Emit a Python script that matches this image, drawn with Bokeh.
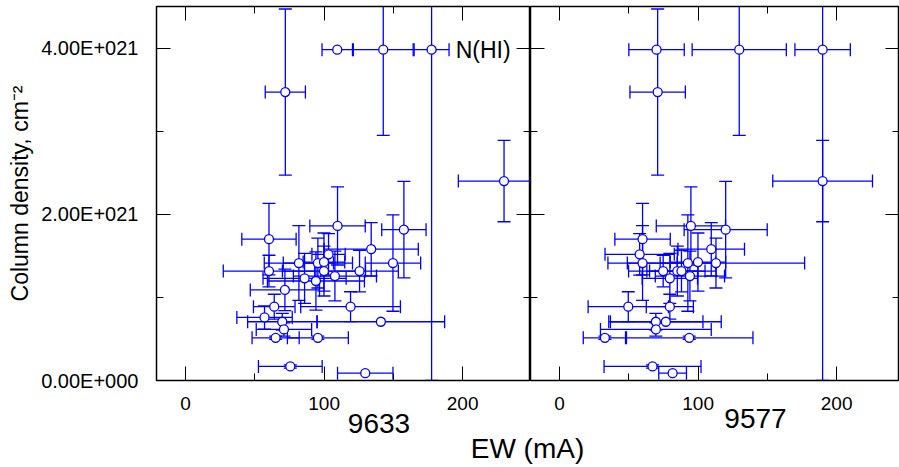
import numpy as np
from bokeh.plotting import figure
from bokeh.layouts import row, column
from bokeh.models import (ColumnDataSource, FixedTicker, CustomJSTickFormatter,
                          LinearAxis, Label, Range1d)
from bokeh.embed import file_html
from bokeh.resources import INLINE

# ---------------- data (column density in units of 1e21 cm^-2, EW in mA) ----------------
panel_names = ["9633", "9577"]
x_title = "EW (mA)"
y_title = "Column density, cm\u207b\u00b2"
series_label = "N(HI)"

ew_9633 = [109.5, 142.7, 177.6, 72.0, 229.9, 109.7, 157.6, 60.2, 134.0, 103.2, 149.7,
           81.8, 95.5, 99.9, 60.2, 99.9, 125.6, 85.9, 94.1, 107.8, 71.7, 64.0, 119.1,
           57.0, 141.0, 69.8, 71.0, 65.0, 95.5, 75.6, 129.7]
ew_err_9633 = [11, 21.6, 12.6, 14.5, 33, 20, 16, 19.6, 34, 12, 20,
               25, 25, 15, 33, 30, 28, 30, 35, 30, 25, 15, 36,
               20, 46, 25, 20, 17, 22, 23, 20]
n_9633 = [3.98, 3.98, 3.98, 3.47, 2.40, 1.86, 1.815, 1.70, 1.58, 1.518, 1.413,
          1.413, 1.413, 1.425, 1.317, 1.317, 1.317, 1.229, 1.197, 1.257, 1.09, 0.888, 0.888,
          0.759, 0.707, 0.707, 0.614, 0.514, 0.514, 0.169, 0.088]
n_err_9633 = [0.0, 1.03, 3.98, 1.0, 0.49, 0.47, 0.58, 0.43, 0.32, 0.25, 0.58,
              0.45, 0.30, 0.35, 0.19, 0.30, 0.25, 0.30, 0.35, 0.30, 0.25, 0.15, 0.18,
              0.14, 0.0, 0.10, 0.08, 0.02, 0.02, 0.02, 0.0]

ew_9577 = [70.0, 129.7, 189.9, 70.8, 189.9, 94.8, 119.9, 59.9, 109.5, 57.8, 92.6,
           59.9, 112.9, 99.9, 74.8, 85.0, 88.0, 79.6, 94.1, 79.6, 49.6,
           76.7, 69.5, 69.5, 32.7, 93.6, 67.1, 81.6]
ew_err_9577 = [20, 34, 20, 20, 36, 25, 30, 20, 24, 25, 20,
               25, 64, 20, 25, 20, 25, 20, 25, 17, 29,
               40, 34, 40, 15.6, 46, 35, 10]
n_9577 = [3.98, 3.98, 3.98, 3.47, 2.40, 1.86, 1.815, 1.70, 1.58, 1.518, 1.413,
          1.413, 1.413, 1.425, 1.317, 1.317, 1.317, 1.229, 1.257, 0.888, 0.888,
          0.707, 0.707, 0.614, 0.514, 0.514, 0.169, 0.088]
n_err_9577 = [0.0, 1.03, 3.98, 1.0, 0.49, 0.47, 0.58, 0.43, 0.32, 0.25, 0.58,
              0.45, 0.30, 0.35, 0.19, 0.30, 0.25, 0.30, 0.30, 0.15, 0.18,
              0.0, 0.10, 0.08, 0.02, 0.02, 0.02, 0.0]

x_major_ticks = [0, 100, 200]
x_minor_ticks = [50, 150, 250]
y_major_ticks = [0, 2, 4]
y_minor_ticks = [1, 3]

BLUE = "#0000ff"
FONT = "Liberation Sans"
H = 467

y_fmt = CustomJSTickFormatter(code="""
if (tick == 0) { return "0.00E+000"; }
const e = Math.floor(Math.log10(Math.abs(tick)));
const m = tick / Math.pow(10, e);
const ex = e + 21;
return m.toFixed(2) + "E+" + String(ex).padStart(3, "0");
""")
empty_fmt = CustomJSTickFormatter(code="return '';")


def add_axis(p, side, ticker, fmt=None, font_size="19px", standoff=16):
    ax = LinearAxis(ticker=ticker)
    ax.major_tick_in = 14
    ax.major_tick_out = 0
    ax.minor_tick_in = 7
    ax.minor_tick_out = 0
    ax.major_tick_line_color = "black"
    ax.minor_tick_line_color = "black"
    ax.axis_line_color = "black"
    if fmt is None:
        ax.formatter = empty_fmt
        ax.major_label_standoff = 0
        ax.major_label_text_font_size = "1px"
    else:
        ax.formatter = fmt
        ax.major_label_text_font = FONT
        ax.major_label_text_font_size = font_size
        ax.major_label_text_color = "black"
        ax.major_label_standoff = standoff
    p.add_layout(ax, side)
    return ax


def make_panel(ew, ew_err, n, n_err, x_start, x_end, width, border_left, first):
    p = figure(width=width, height=H, x_range=Range1d(x_start, x_end),
               y_range=Range1d(0, 4.5), output_backend="svg", toolbar_location=None,
               x_axis_location=None, y_axis_location=None,
               min_border_left=border_left, min_border_right=0,
               min_border_top=6, min_border_bottom=87)
    p.grid.visible = False
    p.outline_line_color = "black"
    p.outline_line_width = 1.5
    p.background_fill_color = "white"
    p.border_fill_color = "white"

    xt = FixedTicker(ticks=x_major_ticks, minor_ticks=x_minor_ticks)
    yt = FixedTicker(ticks=y_major_ticks, minor_ticks=y_minor_ticks)

    add_axis(p, "below", xt, fmt=CustomJSTickFormatter(code="return String(tick);"),
             font_size="19px", standoff=16)
    add_axis(p, "above", xt)
    add_axis(p, "right", yt)
    if first:
        ax = add_axis(p, "left", yt, fmt=y_fmt, font_size="20px", standoff=18)
        ax.axis_label = y_title
        ax.axis_label_text_font = FONT
        ax.axis_label_text_font_size = "23px"
        ax.axis_label_text_font_style = "normal"
        ax.axis_label_text_color = "black"
        ax.axis_label_standoff = 5
    else:
        add_axis(p, "left", yt)

    ew = np.asarray(ew, float)
    ew_err = np.asarray(ew_err, float)
    n = np.asarray(n, float)
    n_err = np.asarray(n_err, float)

    # horizontal error bars
    hsrc = ColumnDataSource(dict(x0=ew - ew_err, x1=ew + ew_err, y=n))
    p.segment(x0="x0", y0="y", x1="x1", y1="y", source=hsrc, line_color=BLUE, line_width=1.3)
    p.scatter(x=np.concatenate([ew - ew_err, ew + ew_err]), y=np.concatenate([n, n]),
              marker="dash", size=13, angle=np.pi / 2, line_color=BLUE, line_width=1.3)

    # vertical error bars
    m = n_err > 0
    vsrc = ColumnDataSource(dict(x=ew[m], y0=n[m] - n_err[m], y1=n[m] + n_err[m]))
    p.segment(x0="x", y0="y0", x1="x", y1="y1", source=vsrc, line_color=BLUE, line_width=1.3)
    p.scatter(x=np.concatenate([ew[m], ew[m]]),
              y=np.concatenate([n[m] - n_err[m], n[m] + n_err[m]]),
              marker="dash", size=13, line_color=BLUE, line_width=1.3)

    # points
    p.scatter(x=ew, y=n, marker="circle", size=9, fill_color="white",
              line_color=BLUE, line_width=1.3)
    return p


p1 = make_panel(ew_9633, ew_err_9633, n_9633, n_err_9633, -21, 249, 530, 156, True)
p2 = make_panel(ew_9577, ew_err_9577, n_9577, n_err_9577, -21, 245.4, 369, 0, False)

p1.add_layout(Label(x=195, y=3.98, text=series_label, text_font=FONT, text_font_size="23px",
                    text_baseline="middle", text_align="left", text_color="black"))

# transparent strip overlaid on the bottom of the panels for the big captions
OV = 80
p3 = figure(width=899, height=OV, x_range=Range1d(0, 899), y_range=Range1d(0, OV),
            output_backend="svg", toolbar_location=None, x_axis_location=None,
            y_axis_location=None, min_border=0)
p3.grid.visible = False
p3.outline_line_color = None
p3.background_fill_alpha = 0
p3.border_fill_alpha = 0
p3.margin = (-OV, 0, 0, 0)
p3.add_layout(Label(x=378.5, y=44, text=panel_names[0], text_font=FONT, text_font_size="28px",
                    text_baseline="alphabetic", text_align="center", text_color="black"))
p3.add_layout(Label(x=755, y=49, text=panel_names[1], text_font=FONT, text_font_size="28px",
                    text_baseline="alphabetic", text_align="center", text_color="black"))
p3.add_layout(Label(x=527, y=19, text=x_title, text_font=FONT, text_font_size="28px",
                    text_baseline="alphabetic", text_align="center", text_color="black"))

layout = column(row(p1, p2), p3)

with open("out.html", "w") as f:
    f.write(file_html(layout, INLINE))
